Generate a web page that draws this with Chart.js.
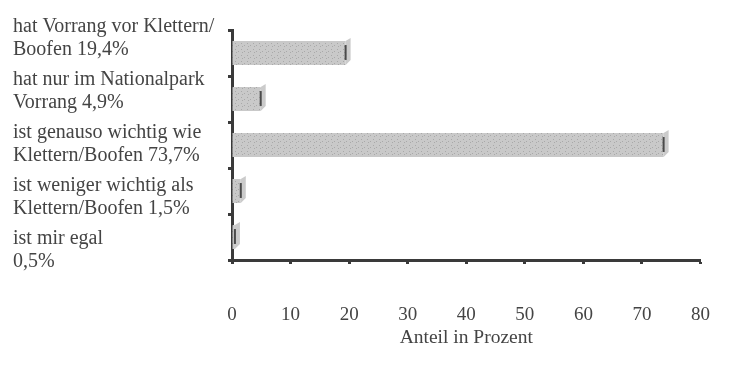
<!DOCTYPE html>
<html>
<head>
<meta charset="utf-8">
<script src="https://cdn.jsdelivr.net/npm/chart.js@4"></script>
<style>
  body { margin: 0; background: #fff; }
  #wrap { width: 750px; height: 365px; }
</style>
</head>
<body>
<div id="wrap"><canvas id="myChart" width="750" height="365"></canvas></div>
<script>
const categories = [
  ['hat Vorrang vor Klettern/', 'Boofen 19,4%'],
  ['hat nur im Nationalpark', 'Vorrang 4,9%'],
  ['ist genauso wichtig wie', 'Klettern/Boofen 73,7%'],
  ['ist weniger wichtig als', 'Klettern/Boofen 1,5%'],
  ['ist mir egal', '0,5%']
];
const shares = [19.4, 4.9, 73.7, 1.5, 0.5];
const xTicks = [0, 10, 20, 30, 40, 50, 60, 70, 80];

// grey dotted fill, a bit like the print raster
function makePattern() {
  const c = document.createElement('canvas');
  c.width = 6; c.height = 6;
  const g = c.getContext('2d');
  g.fillStyle = '#c9c9c9';
  g.fillRect(0, 0, 6, 6);
  g.fillStyle = '#a9a9a9';
  g.fillRect(1, 1, 1, 1);
  g.fillRect(4, 3, 1, 1);
  g.fillRect(2, 4, 1, 1);
  return g.createPattern(c, 'repeat');
}

// slanted end face + dark mark, like the 3D bars in the print
const barEnds = {
  id: 'barEnds',
  afterDatasetsDraw(chart) {
    const c = chart.ctx;
    chart.getDatasetMeta(0).data.forEach((bar) => {
      const top = bar.y - bar.height / 2;
      const bottom = bar.y + bar.height / 2;
      c.save();
      c.fillStyle = '#cbcbcb';
      c.beginPath();
      c.moveTo(bar.x, top);
      c.lineTo(bar.x + 5, top - 3);
      c.lineTo(bar.x + 5, bottom - 5);
      c.lineTo(bar.x, bottom);
      c.closePath();
      c.fill();
      c.fillStyle = '#4a4a4a';
      c.fillRect(bar.x - 1, top + 4, 2, bar.height - 9);
      c.restore();
    });
  }
};

const serif = 'Liberation Serif, "Times New Roman", serif';
const ctx = document.getElementById('myChart').getContext('2d');

const myChart = new Chart(ctx, {
  type: 'bar',
  data: {
    labels: categories,
    datasets: [{
      data: shares,
      backgroundColor: makePattern(),
      borderWidth: 0,
      categoryPercentage: 1,
      barPercentage: 0.52
    }]
  },
  plugins: [barEnds],
  options: {
    indexAxis: 'y',
    responsive: false,
    animation: false,
    layout: { padding: { left: 13, right: 37, top: 30, bottom: 12 } },
    plugins: { legend: { display: false }, tooltip: { enabled: false } },
    scales: {
      x: {
        type: 'linear',
        min: 0,
        max: 80,
        afterBuildTicks: (axis) => { axis.ticks = xTicks.map(v => ({ value: v })); },
        afterFit: (axis) => { axis.height = 93; },
        border: { color: '#3a3a3a', width: 3 },
        grid: { drawOnChartArea: false, tickLength: 4, tickColor: '#3a3a3a', tickWidth: 3 },
        ticks: { padding: 40, maxRotation: 0, autoSkip: false, color: '#444', font: { family: serif, size: 19 } },
        title: { display: true, text: 'Anteil in Prozent', color: '#444', padding: { top: 2, bottom: 3 }, font: { family: serif, size: 19.5 } }
      },
      y: {
        type: 'category',
        position: 'left',
        afterFit: (axis) => { axis.width = 6; },
        border: { color: '#3a3a3a', width: 3 },
        grid: { drawOnChartArea: false, tickLength: 4, tickColor: '#3a3a3a', tickWidth: 3 },
        ticks: { display: false }
      },
      names: {
        type: 'linear',
        position: 'left',
        reverse: true,
        min: 0.283,
        max: 3.755,
        afterBuildTicks: (axis) => { axis.ticks = categories.map((c, i) => ({ value: i })); },
        afterFit: (axis) => { axis.width = 213; },
        border: { display: false },
        grid: { display: false },
        ticks: {
          autoSkip: false,
          crossAlign: 'far',
          color: '#444',
          font: { family: serif, size: 20, lineHeight: 1.15 },
          callback: (v) => categories[v]
        }
      }
    }
  }
});
</script>
</body>
</html>
